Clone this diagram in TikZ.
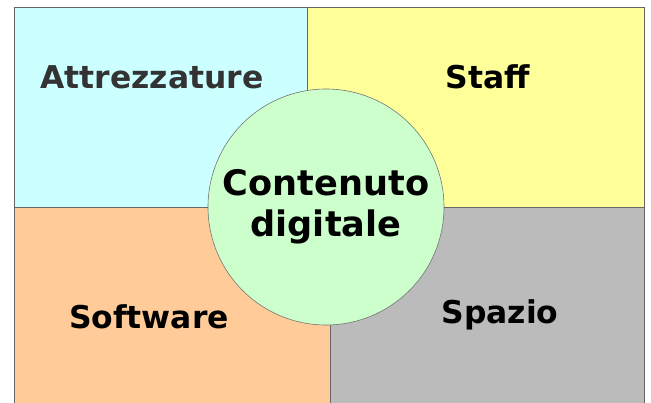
\documentclass[tikz,border=0pt]{standalone}
\usepackage{fontspec}
\setmainfont{DejaVu Sans}
\usepackage{tikz}
\usetikzlibrary{positioning, shapes.geometric}

\definecolor{attrcyan}{HTML}{CCFFFF}
\definecolor{staffyellow}{HTML}{FFFF99}
\definecolor{softorange}{HTML}{FFCC99}
\definecolor{spaziogray}{HTML}{BBBBBB}
\definecolor{contgreen}{HTML}{CCFFCC}

\begin{document}
\begin{tikzpicture}[
    areacard/.style={
        draw=black!60,
        line width=0.5pt,
        rectangle,
        inner sep=0pt,
        outer sep=0pt
    },
    arealabel/.style={
        inner sep=0pt,
        font=\bfseries\fontsize{26.8}{32}\selectfont
    },
    centerdisc/.style={
        draw=black!55,
        line width=0.5pt,
        circle,
        fill=contgreen,
        minimum size=7.08cm,
        inner sep=0pt,
        align=center,
        font=\bfseries\fontsize{30}{35}\selectfont
    }
]
    \useasboundingbox (0,0) rectangle (19.53,-12.09);
    \clip (0,0) rectangle (19.53,-12.09);

    % the four areas
    \node[areacard, fill=attrcyan, minimum width=8.79cm, minimum height=6cm]
        (attrezzature) at (4.815,-3.21) {};
    \node[areacard, fill=staffyellow, minimum width=10.11cm, minimum height=6cm]
        (staff) at (14.265,-3.21) {};
    \node[areacard, fill=softorange, minimum width=9.48cm, minimum height=6.19cm]
        (software) at (5.16,-9.305) {};
    \node[areacard, fill=spaziogray, minimum width=9.42cm, minimum height=6.19cm]
        (spazio) at (14.61,-9.305) {};

    \node[arealabel, text=black!80] (attrlabel) at (4.56,-2.31) {
        Attrezzature
    };
    \node[arealabel] (stafflabel) at (14.64,-2.31) {
        Staff
    };
    \node[arealabel] (softlabel) at (4.47,-9.51) {
        Software
    };
    \node[arealabel] (spaziolabel) at (15.0,-9.45) {
        Spazio
    };

    % content in the middle
    \node[centerdisc] (contenuto) at (9.78,-6.21) {
        Contenuto\\digitale
    };
\end{tikzpicture}
\end{document}
